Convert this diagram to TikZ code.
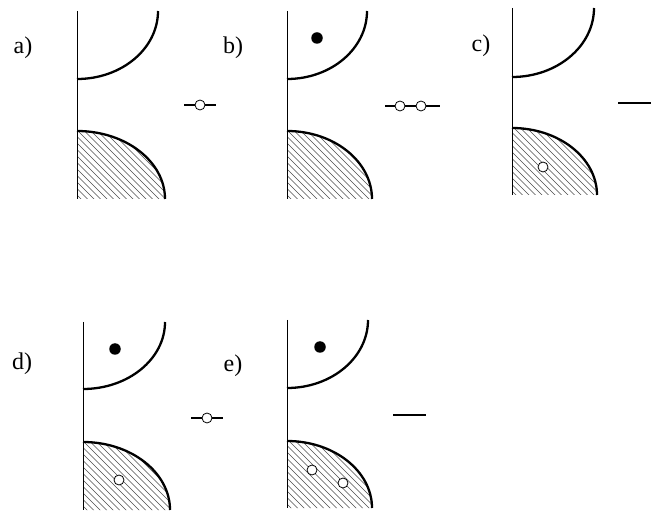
\documentclass[tikz,border=0pt]{standalone}
\usepackage{fontspec}
\setmainfont{Liberation Serif}
\begin{document}
\begin{tikzpicture}[x=1pt,y=1pt,
  wall/.style={line width=0.9pt},
  band/.style={line width=2.3pt},
  hatchline/.style={line width=0.5pt,black!70},
  level/.style={line width=1.3pt},
  hole/.style={circle,draw,line width=0.8pt,fill=white,inner sep=0pt,minimum size=10pt},
  elec/.style={circle,fill=black,inner sep=0pt,minimum size=11.5pt},
  lab/.style={font=\fontsize{24}{24}\selectfont,inner sep=0pt}]
\useasboundingbox (0,0) rectangle (662,512);
% generic panel: #1 x0, #2 top Y, #3 upper a, #4 upper b, #5 bottom Y, #6 lower a, #7 lower b
\newcommand\mypanel[7]{%
  \begin{scope}
    \clip (#1,#5) -- (#1,#5+#7) arc[start angle=90,end angle=0,x radius=#6,y radius=#7] -- cycle;
    \foreach \c in {-200,-193.5,...,200}
      \draw[hatchline] (#1+\c,#5+100) -- (#1+\c+120,#5-20);
  \end{scope}
  \draw[wall] (#1,#2) -- (#1,#5);
  \draw[band] (#1,#2-#4) arc[start angle=270,end angle=360,x radius=#3,y radius=#4];
  \draw[band] (#1,#5+#7) arc[start angle=90,end angle=0,x radius=#6,y radius=#7];
}
% a)
\mypanel{77}{501}{81}{68}{313}{88}{68}
\node[lab] (la) at (23,464) {a)};
\draw[level] (184,407) coordinate (a1) -- (216,407) coordinate (a2);
\node[hole] (ah) at (200,407) {};
% b)
\mypanel{287}{501}{80}{68}{313}{85}{68}
\node[lab] (lb) at (233,464) {b)};
\node[elec] (be) at (317,474) {};
\draw[level] (385,406) coordinate (b1) -- (440,406) coordinate (b2);
\node[hole] (bh1) at (400,406) {};
\node[hole] (bh2) at (421,406) {};
% c)
\mypanel{512}{504}{82}{69}{317}{85}{67}
\node[lab] (lc) at (481,466) {c)};
\node[hole] (ch) at (543,345) {};
\draw[level] (618,409) coordinate (c1) -- (651,409) coordinate (c2);
% d)
\mypanel{83}{190}{82}{67}{2}{87}{68}
\node[lab] (ld) at (22,148) {d)};
\node[elec] (de) at (115,163) {};
\node[hole] (dh) at (119,32) {};
\draw[level] (191,94) coordinate (d1) -- (223,94) coordinate (d2);
\node[hole] (dh2) at (207,94) {};
% e)
\mypanel{287}{192}{81}{68}{4}{85}{67}
\node[lab] (le) at (233,146) {e)};
\node[elec] (ee) at (320,165) {};
\node[hole] (eh1) at (312,42) {};
\node[hole] (eh2) at (343,29) {};
\draw[level] (393,97) coordinate (e1) -- (426,97) coordinate (e2);
\end{tikzpicture}
\end{document}
